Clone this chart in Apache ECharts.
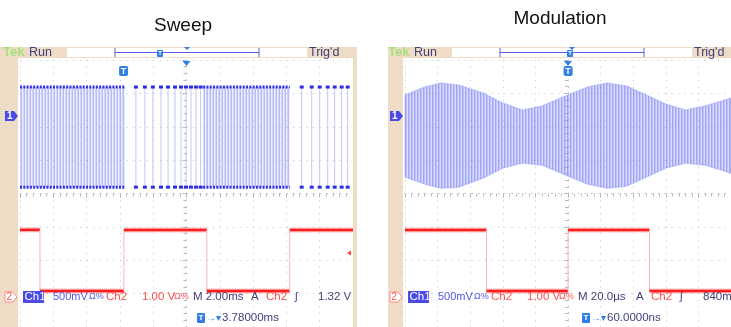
<!DOCTYPE html>
<html>
<head>
<meta charset="utf-8">
<script src="https://cdn.jsdelivr.net/npm/echarts@6/dist/echarts.min.js"></script>
<style>
html, body { margin: 0; padding: 0; background: #fff; }
#chart { width: 731px; height: 327px; }
</style>
</head>
<body>
<div id="chart"></div>
<script>
// x: time from screen centre (ms left, µs right); y: divisions from screen centre
var sweepDense = [[-10, -3.7], [1.0, 6.2]];
var sweepEdges = [-3.04, -2.50, -2.02, -1.53, -1.11, -0.69, -0.33, -0.03, 0.27, 0.57, 0.85,
                  6.92, 7.52, 8.0, 8.48, 8.9, 9.32, 9.68];
var sweepHigh = 3.19;
var sweepLow = 0.19;
var sweepRedEdges = [-10, -8.8, -3.76, 1.22, 6.2, 10];
var sweepRedLevels = [-1.09, -2.92, -1.09, -2.92, -1.09];
var sweepTrigPos = -3.78;

var modTime = [-100, -88, -78, -67, -52, -40, -28, -16, 0, 12, 24, 36, 48, 60, 72, 84, 96, 100];
var modUpper = [2.95, 3.19, 3.31, 3.25, 3.01, 2.71, 2.50, 2.62, 2.95, 3.19, 3.31, 3.22, 2.95, 2.68, 2.50, 2.62, 2.80, 2.86];
var modLower = [0.49, 0.28, 0.16, 0.19, 0.46, 0.76, 0.91, 0.85, 0.52, 0.28, 0.16, 0.22, 0.49, 0.76, 0.91, 0.85, 0.67, 0.60];
var modRedEdges = [-100, -50, 0, 50, 100];
var modRedLevels = [-1.09, -2.92, -1.09, -2.92];
var modTrigPos = 0.06;

var beige = '#eedcc7';
var navy = '#41417a';
var blueTxt = '#5656ee';
var redTxt = '#ff5050';
var font = 'Liberation Sans';

function stripes(cols) {
    var c = document.createElement('canvas');
    c.width = cols.length;
    c.height = 1;
    var ctx = c.getContext('2d');
    cols.forEach(function (col, i) {
        ctx.fillStyle = col;
        ctx.fillRect(i, 0, 1, 1);
    });
    return { image: c, repeat: 'repeat' };
}
var sweepFill = stripes(['rgba(125,133,240,0.55)', 'rgba(200,204,250,0.35)', 'rgba(160,166,245,0.45)']);
var modFill = stripes(['rgba(100,110,235,0.62)', 'rgba(140,148,242,0.55)', 'rgba(178,183,247,0.5)']);

function redSegs(edges, levels) {
    var out = [];
    for (var i = 0; i < levels.length; i++) {
        out.push([edges[i], edges[i + 1], levels[i], i > 0 ? levels[i - 1] : levels[i]]);
    }
    return out;
}

function axes(idx, half, step) {
    var dotted = { color: '#c2c2c2', type: [1, 5.66], width: 1 };
    return {
        x: {
            gridIndex: idx, type: 'value', min: -half, max: half, interval: step,
            axisLine: { show: true, onZero: true, lineStyle: dotted },
            axisTick: { show: true, length: 4, lineStyle: { color: '#b8b8b8' } },
            minorTick: { show: true, splitNumber: 5, length: 3, lineStyle: { color: '#b8b8b8' } },
            axisLabel: { show: false },
            splitLine: { show: true, lineStyle: dotted }
        },
        y: {
            gridIndex: idx, type: 'value', min: -4, max: 4, interval: 1,
            axisLine: { show: true, onZero: true, lineStyle: dotted },
            axisTick: { show: true, length: 4, lineStyle: { color: '#b8b8b8' } },
            minorTick: { show: true, splitNumber: 5, length: 3, lineStyle: { color: '#b8b8b8' } },
            axisLabel: { show: false },
            splitLine: { show: true, lineStyle: dotted }
        }
    };
}

var ax0 = axes(0, 10, 2);
var ax1 = axes(1, 100, 20);

function redSeries(idx, data) {
    return {
        type: 'custom', xAxisIndex: idx, yAxisIndex: idx, data: data, z: 4,
        encode: { x: [0, 1], y: [2, 3] },
        renderItem: function (params, api) {
            var a = api.coord([api.value(0), api.value(2)]);
            var b = api.coord([api.value(1), api.value(2)]);
            var p = api.coord([api.value(0), api.value(3)]);
            return {
                type: 'group',
                children: [
                    { type: 'line', shape: { x1: a[0], y1: p[1], x2: a[0], y2: a[1] },
                      style: { stroke: '#ffb4b4', lineWidth: 1 } },
                    { type: 'line', shape: { x1: a[0], y1: a[1], x2: b[0], y2: b[1] },
                      style: { stroke: 'rgba(255,70,70,0.35)', lineWidth: 5 } },
                    { type: 'line', shape: { x1: a[0], y1: a[1], x2: b[0], y2: b[1] },
                      style: { stroke: '#ff1c1c', lineWidth: 2.5 } }
                ]
            };
        }
    };
}

function trigSeries(idx, pos) {
    return {
        type: 'custom', xAxisIndex: idx, yAxisIndex: idx, data: [[pos, 0]], z: 6,
        renderItem: function (params, api) {
            var x = api.coord([api.value(0), 0])[0];
            var c = api.coord([0, 0])[0];
            var top = params.coordSys.y;
            return {
                type: 'group',
                children: [
                    { type: 'polygon', shape: { points: [[c - 4, top + 1], [c + 4, top + 1], [c, top + 6]] },
                      style: { fill: '#2f7fe6' } },
                    { type: 'rect', shape: { x: x - 4.5, y: top + 6, width: 9, height: 10, r: 2 },
                      style: { fill: '#2f7fe6' } },
                    { type: 'text', style: { x: x, y: top + 11.5, text: 'T', fill: '#fff',
                      font: 'bold 9px ' + font, align: 'center', verticalAlign: 'middle' } }
                ]
            };
        }
    };
}

var sweepDenseSeries = {
    type: 'custom', xAxisIndex: 0, yAxisIndex: 0, data: sweepDense, z: 3,
    encode: { x: [0, 1] },
    renderItem: function (params, api) {
        var p0 = api.coord([api.value(0), sweepHigh]);
        var p1 = api.coord([api.value(1), sweepLow]);
        var rail = { stroke: '#3030e4', lineWidth: 3, lineDash: [2, 1.3] };
        return {
            type: 'group',
            children: [
                { type: 'rect', shape: { x: p0[0], y: p0[1], width: p1[0] - p0[0], height: p1[1] - p0[1] },
                  style: { fill: sweepFill } },
                { type: 'line', shape: { x1: p0[0], y1: p0[1], x2: p1[0], y2: p0[1] }, style: rail },
                { type: 'line', shape: { x1: p0[0], y1: p1[1], x2: p1[0], y2: p1[1] }, style: rail }
            ]
        };
    }
};

var sweepEdgeSeries = {
    type: 'custom', xAxisIndex: 0, yAxisIndex: 0, z: 3,
    data: sweepEdges.map(function (t) { return [t, sweepHigh]; }),
    renderItem: function (params, api) {
        var hi = api.coord([api.value(0), sweepHigh]);
        var lo = api.coord([api.value(0), sweepLow]);
        return {
            type: 'group',
            children: [
                { type: 'line', shape: { x1: hi[0], y1: hi[1], x2: lo[0], y2: lo[1] },
                  style: { stroke: '#c2c6f6', lineWidth: 1 } },
                { type: 'rect', shape: { x: hi[0] - 2, y: hi[1] - 1.5, width: 4, height: 3 },
                  style: { fill: '#2c2ce2' } },
                { type: 'rect', shape: { x: lo[0] - 2, y: lo[1] - 1.5, width: 4, height: 3 },
                  style: { fill: '#2c2ce2' } }
            ]
        };
    }
};

var modSeries = {
    type: 'custom', xAxisIndex: 1, yAxisIndex: 1, data: [[0, 0]], z: 3,
    renderItem: function (params, api) {
        var pts = [];
        modTime.forEach(function (t, i) { pts.push(api.coord([t, modUpper[i]])); });
        for (var i = modTime.length - 1; i >= 0; i--) pts.push(api.coord([modTime[i], modLower[i]]));
        return {
            type: 'polygon',
            shape: { points: pts },
            style: { fill: modFill, stroke: 'rgba(130,138,240,0.3)', lineWidth: 1.5, lineJoin: 'round' }
        };
    }
};

function txt(x, y, s, color, size, extra) {
    var o = { type: 'text', x: x, y: y, z: 20,
        style: { text: s, fill: color, font: (size || 11.5) + 'px ' + font, verticalAlign: 'middle' } };
    if (extra) Object.assign(o.style, extra);
    return o;
}

function panel(ox, sx0, sx1, rightEnd, tb, scale, level, tpos) {
    var g = [];
    g.push({ type: 'rect', z: 1, shape: { x: sx0, y: 47, width: sx1 - sx0, height: 280 }, style: { fill: beige } });
    g.push({ type: 'rect', z: 1, shape: { x: sx0, y: 47, width: rightEnd - sx0, height: 11 }, style: { fill: beige } });
    g.push({ type: 'rect', z: 2, shape: { x: ox + 67, y: 48, width: 240, height: 9 }, style: { fill: '#fff' } });
    g.push({ type: 'line', z: 3, shape: { x1: ox + 115, y1: 52.5, x2: ox + 259, y2: 52.5 }, style: { stroke: '#5b5be6', lineWidth: 1 } });
    g.push({ type: 'line', z: 3, shape: { x1: ox + 115, y1: 48, x2: ox + 115, y2: 57 }, style: { stroke: '#5b5be6', lineWidth: 1 } });
    g.push({ type: 'line', z: 3, shape: { x1: ox + 259, y1: 48, x2: ox + 259, y2: 57 }, style: { stroke: '#5b5be6', lineWidth: 1 } });
    g.push({ type: 'polygon', z: 3, shape: { points: [[ox + 184, 47], [ox + 190, 47], [ox + 187, 50]] }, style: { fill: '#2f7fe6' } });
    g.push({ type: 'rect', z: 3, shape: { x: tb - 3, y: 50, width: 6, height: 7, r: 1 }, style: { fill: '#2f7fe6' } });
    g.push(txt(tb, 53.5, 'T', '#fff', 6, { align: 'center', font: 'bold 6px ' + font }));
    g.push(txt(ox + 3, 52.5, 'Tek', '#a8e07c', 13, { font: 'bold 13px ' + font }));
    g.push(txt(ox + 29, 52.5, 'Run', navy, 12.5));
    g.push(txt(ox + 309, 52.5, 'Trig\'d', navy, 12.5));
    // channel ground markers
    g.push({ type: 'polygon', z: 5, shape: { points: [[ox + 5, 111], [ox + 14, 111], [ox + 18, 116], [ox + 14, 121], [ox + 5, 121]] }, style: { fill: '#4a4ae4' } });
    g.push(txt(ox + 7, 116, '1', '#fff', 10, { font: 'bold 10px ' + font }));
    g.push({ type: 'polygon', z: 5, shape: { points: [[ox + 5, 292], [ox + 13, 292], [ox + 17, 297], [ox + 13, 302], [ox + 5, 302]] }, style: { fill: '#fff', stroke: '#ff8a8a', lineWidth: 1 } });
    g.push(txt(ox + 6.5, 297, '2', redTxt, 10));
    // status line
    g.push({ type: 'rect', z: 19, shape: { x: ox + 23, y: 291, width: 21, height: 12 }, style: { fill: '#4a4ae4' } });
    g.push(txt(ox + 24.5, 297, 'Ch1', '#fff'));
    g.push(txt(ox + 53, 297, '500mV', blueTxt, 11));
    g.push(txt(ox + 89, 297, 'Ω%', blueTxt, 9));
    g.push(txt(ox + 106, 297, 'Ch2', redTxt));
    g.push(txt(ox + 142, 297, '1.00 V', redTxt));
    g.push(txt(ox + 174, 297, 'Ω%', redTxt, 9));
    g.push(txt(ox + 193, 297, 'M ' + scale, navy));
    g.push(txt(ox + 251, 297, 'A', navy));
    g.push(txt(ox + 266, 297, 'Ch2', redTxt));
    g.push(txt(ox + 295, 297, 'ʃ', navy));
    g.push(txt(ox + (level.length > 6 ? 313 : 318), 297, level, navy));
    g.push({ type: 'rect', z: 19, shape: { x: ox + 197, y: 313, width: 8, height: 10, r: 1 }, style: { fill: '#2f7fe6' } });
    g.push(txt(ox + 201, 318, 'T', '#fff', 8, { align: 'center', font: 'bold 8px ' + font }));
    g.push(txt(ox + 206, 318, '→▾', '#2f7fe6', 10));
    g.push(txt(ox + 222, 318, tpos, navy));
    return g;
}

var graphics = [].concat(
    panel(0, 0, 18, 357, 160, '2.00ms', '1.32 V', '3.78000ms'),
    panel(385, 388, 403, 731, 570, '20.0µs', '840mV', '60.0000ns'),
    [
        { type: 'rect', z: 1, shape: { x: 353, y: 47, width: 4, height: 280 }, style: { fill: beige } },
        { type: 'polygon', z: 5, shape: { points: [[347, 253], [351, 250.5], [351, 255.5]] }, style: { fill: '#ff4040' } },
        txt(183, 26, 'Sweep', '#111', 19, { align: 'center' }),
        txt(560, 19, 'Modulation', '#111', 19, { align: 'center' })
    ]
);

var option = {
    animation: false,
    grid: [
        { left: 20, top: 60, width: 333, height: 267 },
        { left: 405, top: 60, width: 333, height: 267 }
    ],
    xAxis: [ax0.x, ax1.x],
    yAxis: [ax0.y, ax1.y],
    graphic: graphics,
    series: [
        sweepDenseSeries,
        sweepEdgeSeries,
        redSeries(0, redSegs(sweepRedEdges, sweepRedLevels)),
        trigSeries(0, sweepTrigPos),
        modSeries,
        redSeries(1, redSegs(modRedEdges, modRedLevels)),
        trigSeries(1, modTrigPos)
    ]
};

var chart = echarts.init(document.getElementById('chart'));
chart.setOption(option);
</script>
</body>
</html>
